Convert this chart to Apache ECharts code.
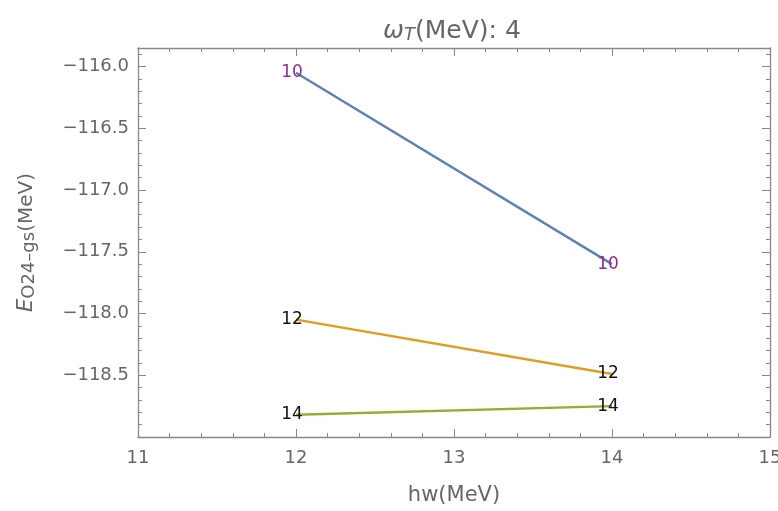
<!DOCTYPE html>
<html>
<head>
<meta charset="utf-8">
<script src="https://cdn.jsdelivr.net/npm/echarts@6/dist/echarts.min.js"></script>
<style>html,body{margin:0;padding:0;background:#fff}#c{width:778px;height:511px}</style>
</head>
<body>
<div id="c"></div>
<script>
const hw = [12, 14];
const e10 = [-116.05, -117.60];
const e12 = [-118.05, -118.49];
const e14 = [-118.82, -118.75];
const seriesNames = ['10', '12', '14'];
const seriesColors = ['#5E81B5', '#E19C24', '#8FB032'];
const labelColors = ['#922B93', '#111111', '#111111'];
const seriesValues = [e10, e12, e14];

const chart = echarts.init(document.getElementById('c'));
const axisGray = '#888888';
const textGray = '#666666';
const font = 'DejaVu Sans, Liberation Sans, sans-serif';

function frameAxis(pos, isX) {
  const base = {
    type: 'value',
    position: pos,
    axisLine: {show: true, onZero: false, lineStyle: {color: axisGray, width: 1.3}},
    axisTick: {show: true, inside: true, length: 8, lineStyle: {color: axisGray}},
    minorTick: {show: true, splitNumber: 5, length: 4, lineStyle: {color: axisGray}},
    splitLine: {show: false},
    axisLabel: {show: false}
  };
  if (isX) { base.min = 11; base.max = 15; base.interval = 1; }
  else { base.min = -119.0; base.max = -115.85; base.interval = 0.5; }
  return base;
}

const xMain = frameAxis('bottom', true);
xMain.axisLabel = {show: true, color: textGray, fontSize: 18, fontFamily: font, margin: 12};
xMain.name = 'hw(MeV)';
xMain.nameLocation = 'middle';
xMain.nameGap = 48;
xMain.nameTextStyle = {color: textGray, fontSize: 21, fontFamily: font};

const yMain = frameAxis('left', false);
yMain.axisLabel = {show: true, color: textGray, fontSize: 18, fontFamily: font, margin: 9,
  showMinLabel: false, showMaxLabel: false,
  formatter: v => (v < 0 ? '\u2212' : '') + Math.abs(v).toFixed(1)};
yMain.name = '{e|E}{s|O24\u2013gs}{n|(MeV)}';
yMain.nameLocation = 'middle';
yMain.nameRotate = 90;
yMain.nameGap = 100;
yMain.nameTextStyle = {color: textGray, fontFamily: font,
  rich: {
    e: {fontSize: 21, fontStyle: 'italic', color: textGray, fontFamily: font},
    s: {fontSize: 18, color: textGray, fontFamily: font, padding: [5, 0, 0, 0]},
    n: {fontSize: 20, color: textGray, fontFamily: font}
  }};

const xTop = frameAxis('top', true);
const yRight = frameAxis('right', false);

const series = seriesNames.map((n, i) => ({
  name: n,
  type: 'line',
  xAxisIndex: 0,
  yAxisIndex: 0,
  data: hw.map((x, j) => [x, seriesValues[i][j]]),
  symbol: 'circle',
  symbolSize: 1,
  itemStyle: {color: 'rgba(0,0,0,0)'},
  lineStyle: {color: seriesColors[i], width: 2.4},
  label: {show: true, position: 'inside', formatter: n, color: labelColors[i], fontSize: 17, fontFamily: font, offset: [-4, 0]},
  emphasis: {disabled: true},
  animation: false
}));

chart.setOption({
  backgroundColor: '#ffffff',
  animation: false,
  title: {
    text: '{w|\u03c9}{t|T}{n|(MeV): 4}',
    left: 447, top: 13, textAlign: 'center',
    textStyle: {
      rich: {
        w: {fontSize: 25, fontStyle: 'italic', fontWeight: 'normal', color: textGray, fontFamily: font},
        t: {fontSize: 18, fontStyle: 'italic', fontWeight: 'normal', color: textGray, fontFamily: font, padding: [8, 0, 0, 0]},
        n: {fontSize: 25, fontWeight: 'normal', color: textGray, fontFamily: font}
      }
    }
  },
  grid: {left: 138, right: 8, top: 48, bottom: 74, outerBoundsMode: 'none'},
  xAxis: [xMain, xTop],
  yAxis: [yMain, yRight],
  series: series
});
</script>
</body>
</html>
